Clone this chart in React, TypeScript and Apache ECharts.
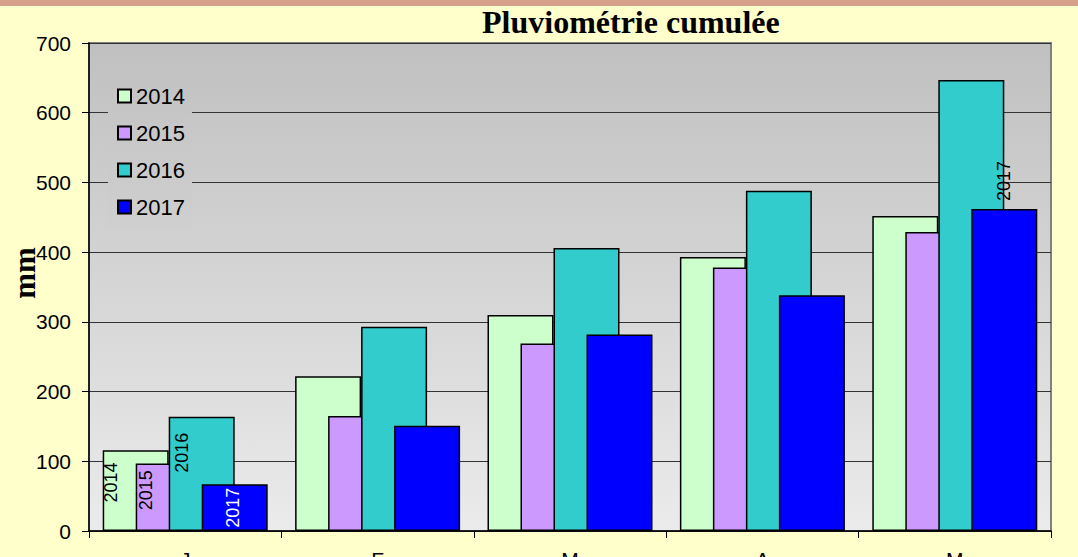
import React, { useEffect, useRef } from "react";
import * as echarts from "echarts";

const categories = ["J", "F", "M", "A", "M"];
const seriesNames = ["2014", "2015", "2016", "2017"];
const values2014 = [116, 222, 310, 393, 452];
const values2015 = [97, 165, 269, 378, 429];
const values2016 = [164, 293, 406, 488, 647];
const values2017 = [67, 151, 282, 338, 462];
const yTicks = { min: 0, max: 700, interval: 100 };

const colors = ["#CCFFCC", "#CC99FF", "#33CCCC", "#0000FF"];

export default function App() {
  const ref = useRef<HTMLDivElement>(null);

  useEffect(() => {
    if (!ref.current) return;
    const chart = echarts.init(ref.current, undefined, { renderer: "svg" });
    const allValues = [values2014, values2015, values2016, values2017];

    // offsets are in the rotated label frame
    const janLabel = [
      { offset: [8, -25], color: "#000" },
      { offset: [7, -23], color: "#000" },
      { offset: [21, -20], color: "#000" },
      { offset: [0, -2], color: "#fff" },
    ];

    const series = seriesNames.map((name, si) => ({
      name,
      type: "bar",
      barWidth: 66,
      barGap: "-50%",
      itemStyle: { color: colors[si], borderColor: "#000", borderWidth: 1.5 },
      data: allValues[si].map((v, i) => {
        if (i === 0) {
          return {
            value: v,
            label: {
              show: true,
              formatter: name,
              position: "inside",
              rotate: 90,
              offset: janLabel[si].offset,
              color: janLabel[si].color,
              fontSize: 18,
              fontFamily: "Liberation Sans",
            },
          };
        }
        if (si === 3 && i === 4) {
          return {
            value: v,
            label: {
              show: true,
              formatter: name,
              position: "top",
              distance: 8,
              rotate: 90,
              align: "left",
              verticalAlign: "middle",
              color: "#000",
              fontSize: 18,
              fontFamily: "Liberation Sans",
            },
          };
        }
        return v;
      }),
    }));

    chart.setOption({
      animation: false,
      backgroundColor: "#FFFFCC",
      title: {
        text: "Pluviométrie cumulée",
        left: 482,
        top: 6,
        padding: 0,
        textStyle: {
          fontFamily: "Liberation Serif",
          fontWeight: "bold",
          fontSize: 32,
          color: "#000",
        },
      },
      legend: {
        orient: "vertical",
        left: 108,
        top: 75,
        padding: [10, 7, 10, 9],
        itemGap: 15,
        itemWidth: 13,
        itemHeight: 13,
        icon: "rect",
        backgroundColor: new echarts.graphic.LinearGradient(0, 0, 0, 1, [
          { offset: 0, color: "#C3C3C3" },
          { offset: 1, color: "#CFCFCF" },
        ]),
        textStyle: {
          fontFamily: "Liberation Sans",
          fontSize: 22,
          lineHeight: 22,
          color: "#000",
        },
        data: seriesNames,
      },
      grid: {
        left: 89,
        right: 27,
        top: 43,
        bottom: 26,
        containLabel: false,
        outerBoundsMode: "none",
        show: true,
        borderColor: "#808080",
        borderWidth: 2,
        backgroundColor: new echarts.graphic.LinearGradient(0, 0, 0, 1, [
          { offset: 0, color: "#C0C0C0" },
          { offset: 1, color: "#EBEBEB" },
        ]),
      },
      xAxis: {
        type: "category",
        data: categories,
        axisLine: { show: true, lineStyle: { color: "#000", width: 1.5 } },
        axisTick: { show: true, length: 7, lineStyle: { color: "#000" } },
        axisLabel: {
          margin: 18,
          fontSize: 21,
          fontFamily: "Liberation Sans",
          color: "#000",
        },
      },
      yAxis: {
        type: "value",
        min: yTicks.min,
        max: yTicks.max,
        interval: yTicks.interval,
        axisLine: { show: true, lineStyle: { color: "#000", width: 1.5 } },
        axisTick: { show: true, length: 7, lineStyle: { color: "#000" } },
        axisLabel: {
          margin: 18,
          fontSize: 21,
          fontFamily: "Liberation Sans",
          color: "#000",
        },
        splitLine: { show: true, lineStyle: { color: "#333333", width: 1 } },
      },
      graphic: [
        {
          type: "rect",
          shape: { x: 0, y: 0, width: 1078, height: 6 },
          style: { fill: "#D6A08C" },
          silent: true,
        },
        {
          type: "text",
          x: 24,
          y: 273,
          rotation: Math.PI / 2,
          style: {
            text: "mm",
            font: "bold 31px 'Liberation Serif'",
            align: "center",
            verticalAlign: "middle",
            fill: "#000",
          },
        },
      ],
      series,
    });

    return () => chart.dispose();
  }, []);

  return (
    <div
      ref={ref}
      style={{ position: "fixed", left: 0, top: 0, width: 1078, height: 557 }}
    />
  );
}
